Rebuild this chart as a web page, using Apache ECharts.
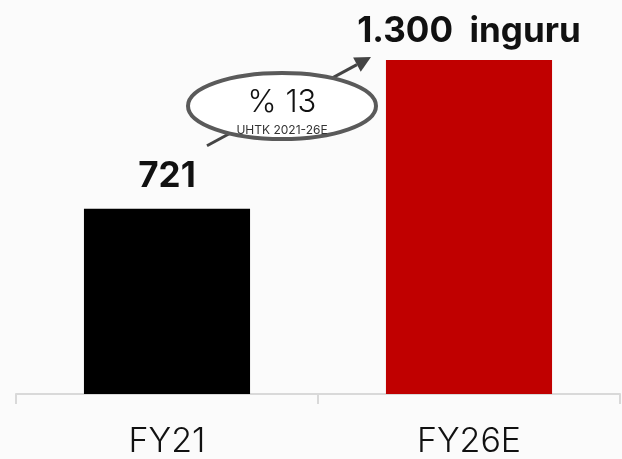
<!DOCTYPE html>
<html>
<head>
<meta charset="utf-8">
<script src="https://cdn.jsdelivr.net/npm/echarts@6/dist/echarts.min.js"></script>
<style>
  html, body { margin: 0; padding: 0; background: #fbfbfb; }
  #main { width: 622px; height: 459px; }
</style>
</head>
<body>
<div id="main"></div>
<script>
  // data
  var categories = ['FY21', 'FY26E']
  var values = [721, 1300]
  var valueLabels = ['721', '1.300  inguru']
  var barColors = ['#000000', '#c00000']
  var cagrText = '% 13'
  var cagrSub = 'UHTK 2021-26E'

  var font = 'Inter, "Noto Sans", sans-serif'
  var labelGap = [15, 11]
  var chart = echarts.init(document.getElementById('main'))

  var option = {
    backgroundColor: '#fbfbfb',
    animation: false,
    grid: { left: 16, right: 2, top: 60, bottom: 59 },
    xAxis: {
      type: 'category',
      data: categories,
      axisLine: { lineStyle: { color: '#d9d9d9', width: 2 } },
      axisTick: { show: true, length: 10, lineStyle: { color: '#d9d9d9', width: 2 } },
      axisLabel: { color: '#111', fontSize: 34, fontWeight: 300, fontFamily: font, margin: 31 }
    },
    yAxis: { type: 'value', min: 0, max: 1300, show: false },
    series: [{
      type: 'bar',
      barWidth: '55%',
      data: values.map(function (v, i) {
        return { value: v, itemStyle: { color: barColors[i] }, label: { distance: labelGap[i] } }
      }),
      label: {
        show: true,
        position: 'top',
        color: '#111',
        fontSize: 35,
        fontWeight: 'bold',
        fontFamily: font,
        formatter: function (p) { return valueLabels[p.dataIndex] }
      }
    }]
  }
  chart.setOption(option)

  // annotation: growth arrow + ellipse, placed from the bar positions
  var p0 = chart.convertToPixel({ seriesIndex: 0 }, [0, values[0]])
  var p1 = chart.convertToPixel({ seriesIndex: 0 }, [1, values[1]])
  var x1 = p0[0] + 40, y1 = p0[1] - 63
  var x2 = p1[0] - 98, y2 = p1[1] - 3
  var ang = Math.atan2(y2 - y1, x2 - x1)
  var hl = 16, hw = 8
  var bx = x2 - hl * Math.cos(ang), by = y2 - hl * Math.sin(ang)
  var cx = (p0[0] + p1[0]) / 2 - 36, cy = p1[1] + 46

  chart.setOption({
    graphic: [
      { type: 'line', z: 100, shape: { x1: x1, y1: y1, x2: bx, y2: by }, style: { stroke: '#444', lineWidth: 3 } },
      { type: 'polygon', z: 100, shape: { points: [[x2, y2],
          [bx + hw * Math.sin(ang), by - hw * Math.cos(ang)],
          [bx - hw * Math.sin(ang), by + hw * Math.cos(ang)]] }, style: { fill: '#444' } },
      { type: 'ellipse', z: 101, shape: { cx: cx, cy: cy, rx: 94, ry: 33 }, style: { fill: '#fff', stroke: '#5a5a5a', lineWidth: 4 } },
      { type: 'text', z: 102, x: cx, y: cy + 12, style: { text: cagrText, fill: '#111', font: '300 31px ' + font, align: 'center', verticalAlign: 'bottom' } },
      { type: 'text', z: 102, x: cx, y: cy + 24, style: { text: cagrSub, fill: '#333', font: '12px ' + font, align: 'center', verticalAlign: 'middle' } }
    ]
  })
</script>
</body>
</html>
